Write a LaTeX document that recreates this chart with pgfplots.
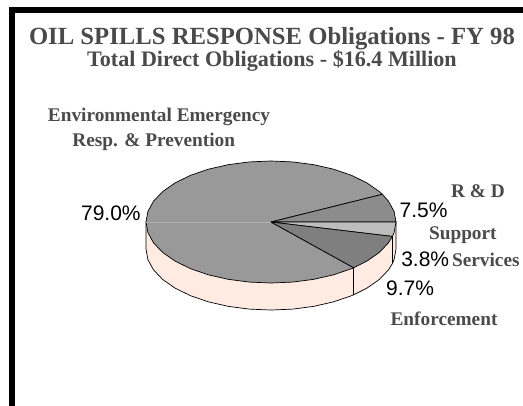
\documentclass[border=0pt]{standalone}
\usepackage{pgfplots}
\usepackage{fontspec}
\setmainfont{Liberation Serif}
\newfontfamily\arialfont{Liberation Sans}
\pgfplotsset{compat=1.18}
\definecolor{titlegrey}{HTML}{4A4A4A}
\definecolor{sideface}{HTML}{FFEBE1}
\definecolor{envgrey}{HTML}{999999}
\definecolor{rdgrey}{HTML}{8C8C8C}
\definecolor{supgrey}{HTML}{BDBDBD}
\definecolor{enfgrey}{HTML}{7F7F7F}
\definecolor{seamgrey}{HTML}{B0B0B0}
\tikzset{
    lab/.style={inner sep=0pt, font=\bfseries\fontsize{19.3bp}{21bp}\selectfont, text=titlegrey},
    pct/.style={inner sep=0pt, font=\arialfont\fontsize{21bp}{23bp}\selectfont, text=black},
}
% shares in percent: Environmental 79.0, R&D 7.5, Support 3.8, Enforcement 9.7
% wedge outlines are on the unit circle, the axis scale squashes it to the ellipse
\pgfplotstableread{
x y
-1 0
-1 -0.443
-0.9848 -0.6166
-0.9397 -0.7850
-0.8660 -0.9430
-0.7660 -1.0858
-0.6428 -1.2090
-0.5 -1.3090
-0.3420 -1.3827
-0.1736 -1.4278
0 -1.443
0.1736 -1.4278
0.3420 -1.3827
0.5 -1.3090
0.6428 -1.2090
0.6613 -1.1931
0.7660 -1.0858
0.8660 -0.9430
0.9397 -0.7850
0.9716 -0.6795
0.9848 -0.6166
1 -0.443
1 0
}\sidetable
\pgfplotstableread{
x y
0 0
1 0
0.9848 0.1736
0.9397 0.3420
0.8910 0.4540
0 0
}\rdtable
\pgfplotstableread{
x y
0 0
0.8910 0.4540
0.8660 0.5
0.7660 0.6428
0.6428 0.7660
0.5 0.8660
0.3420 0.9397
0.1736 0.9848
0 1
-0.1736 0.9848
-0.3420 0.9397
-0.5 0.8660
-0.6428 0.7660
-0.7660 0.6428
-0.8660 0.5
-0.9397 0.3420
-0.9848 0.1736
-1 0
-0.9848 -0.1736
-0.9397 -0.3420
-0.8660 -0.5
-0.7660 -0.6428
-0.6428 -0.7660
-0.5 -0.8660
-0.3420 -0.9397
-0.1736 -0.9848
0 -1
0.1736 -0.9848
0.3420 -0.9397
0.5 -0.8660
0.6428 -0.7660
0.6613 -0.7501
0 0
}\envtable
\pgfplotstableread{
x y
0 0
0.6613 -0.7501
0.7660 -0.6428
0.8660 -0.5
0.9397 -0.3420
0.9716 -0.2365
0 0
}\enftable
\pgfplotstableread{
x y
0 0
0.9716 -0.2365
0.9848 -0.1736
1 0
0 0
}\suptable
\begin{document}
\begin{tikzpicture}
\begin{axis}[
    scale only axis,
    width=523bp,
    height=406bp,
    xmin=-2.168, xmax=2.016,
    ymin=-3.016, ymax=3.639,
    axis lines=none,
    clip=false,
]
% page background, keeps the bounding box at full size, then the frame
\fill[white] (rel axis cs:0,0) rectangle (rel axis cs:1,1);
\fill[black] (rel axis cs:0.0172,0) rectangle (rel axis cs:0.0287,0.9828);
\fill[black] (rel axis cs:0.0172,0.9828) rectangle (rel axis cs:1,0.9690);

\addplot[draw=black, line width=0.7pt, fill=sideface] table {\sidetable};
\addplot[draw=black, line width=0.7pt] coordinates {(0.6613,-0.7501) (0.6613,-1.1931)};
\addplot[draw=black, line width=0.7pt] coordinates {(0.9716,-0.2365) (0.9716,-0.6795)};
\addplot[draw=black, line width=0.7pt, fill=envgrey] table {\envtable};
\addplot[draw=black, line width=0.7pt, fill=rdgrey] table {\rdtable};
\addplot[draw=black, line width=0.7pt, fill=supgrey] table {\suptable};
\addplot[draw=black, line width=0.7pt, fill=enfgrey] table {\enftable};
\addplot[draw=seamgrey, line width=0.5pt] coordinates {(-1,0) (0,0)};

\node[inner sep=0pt, font=\bfseries\fontsize{24.7bp}{26bp}\selectfont, text=titlegrey] at (rel axis cs:0.520,0.906) {OIL SPILLS RESPONSE Obligations - FY 98};
\node[inner sep=0pt, font=\bfseries\fontsize{22.1bp}{24bp}\selectfont, text=titlegrey] at (rel axis cs:0.520,0.851) {Total Direct Obligations - \$16.4 Million};
\node[lab] at (rel axis cs:0.304,0.712) {Environmental Emergency};
\node[lab] at (rel axis cs:0.294,0.650) {Resp. \& Prevention};
\node[lab] at (rel axis cs:0.914,0.530) {R \& D};
\node[lab] at (rel axis cs:0.885,0.421) {Support};
\node[lab] at (rel axis cs:0.929,0.360) {Services};
\node[lab] at (rel axis cs:0.849,0.214) {Enforcement};
\node[pct] at (rel axis cs:0.212,0.475) {79.0\%};
\node[pct] at (rel axis cs:0.810,0.483) {7.5\%};
\node[pct] at (rel axis cs:0.813,0.362) {3.8\%};
\node[pct] at (rel axis cs:0.784,0.291) {9.7\%};
\end{axis}
\end{tikzpicture}
\end{document}
